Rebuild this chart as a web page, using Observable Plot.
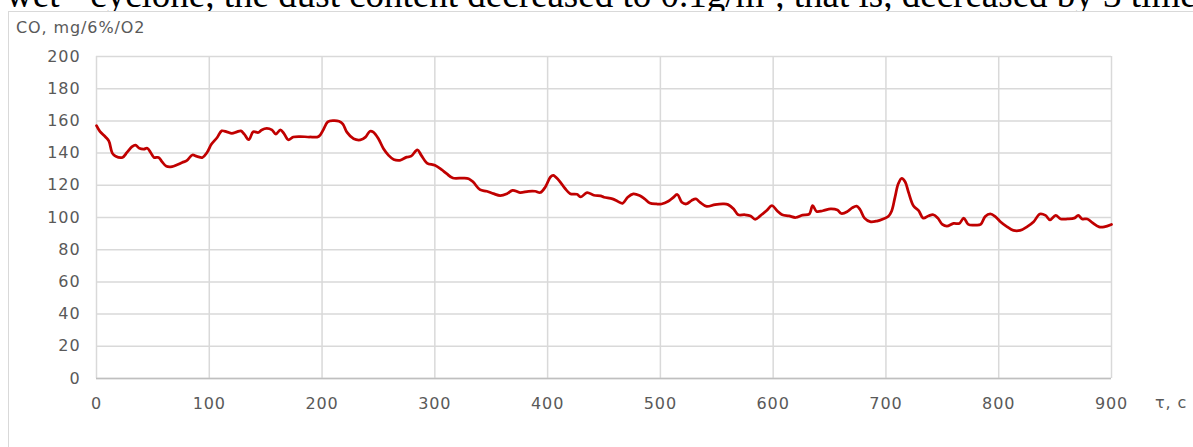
<!DOCTYPE html>
<html>
<head>
<meta charset="utf-8">
<script src="https://cdn.jsdelivr.net/npm/d3@7"></script>
<script src="https://cdn.jsdelivr.net/npm/@observablehq/plot@0.6"></script>
<style>
  html, body { margin: 0; padding: 0; background: #fff; overflow: hidden; }
  #page { position: relative; width: 1193px; height: 447px; overflow: hidden; }
  #prose {
    position: absolute; left: 6px; top: -24px; white-space: nowrap;
    font-family: "Liberation Serif", "Times New Roman", serif; font-size: 37px; line-height: 37px; color: #000;
  }
  #frame {
    position: absolute; left: 8px; top: 11px; width: 1400px; height: 600px;
    border-left: 1px solid #d9d9d9; border-top: 1px solid #d9d9d9; background: #fff;
  }
  .lbl {
    position: absolute; font-family: "DejaVu Sans", sans-serif; font-size: 16px; line-height: 16px;
    letter-spacing: 0.9px; color: #595959; white-space: nowrap;
  }
  #chart { position: absolute; left: 0; top: 0; }
</style>
</head>
<body>
<div id="page">
  <div id="prose">wet - cyclone, the dust content decreased to 0.1g/m³, that is, decreased by 3 times</div>
  <div id="frame"></div>
  <div id="chart"></div>
  <div class="lbl" id="ytitle" style="left:16px; top:20px;"></div>
  <div class="lbl" id="xtitle" style="left:1155px; top:395px;"></div>
</div>
<script>
// Time, seconds
const timeSec = [
  0, 3, 8, 11, 14, 17, 23, 27, 31.5, 34.5, 38, 42, 45, 48, 51, 55, 58, 62, 67, 71,
  76, 80, 85, 89, 94, 98, 102, 107, 111, 115.5, 120, 124.5, 128, 131, 135, 139, 143.5, 146.5, 151, 155.5,
  159, 163, 166, 170, 174.5, 180.5, 189, 197, 201, 205, 210, 215, 218.5, 222, 228, 234, 238.5, 242.5, 245.5, 250,
  254.5, 259, 263.5, 269, 275, 279, 284.5, 288, 293, 300, 306, 310.5, 316, 325, 330, 334, 340, 346, 352, 358,
  364, 369, 375.5, 383, 389, 393.5, 398, 402.5, 405, 410, 415.5, 420, 426, 429.5, 435, 441, 447, 450, 457.5, 462,
  466.5, 471, 476, 481.5, 486, 490.5, 496.5, 501, 507, 511, 515, 519, 523, 527.5, 531.5, 535, 541, 548.5, 556, 560,
  565, 569, 575, 580, 584, 588.5, 594, 599, 603.5, 608, 614, 620, 626, 632, 635, 638.5, 644, 651, 657, 660.5,
  666, 670, 674, 677, 681, 686, 692, 697.5, 702, 705, 708, 711, 714, 717, 720, 724.5, 729, 733, 738, 742,
  746, 750, 754, 760, 765, 769, 773, 779, 784, 788, 792.5, 797, 801.5, 807.5, 813, 819, 825, 831, 836.5, 841.5,
  845.5, 850.5, 855, 861, 867, 870.5, 874, 878.5, 883, 889, 893.5, 900
];

// CO concentration, mg/m³ at 6% O2
const coValues = [
  157, 153.5, 150, 147.5, 140, 138, 137.3, 140.4, 144, 145, 143, 142.5, 143, 140.4, 137.3, 137.3, 134.7, 131.8, 131.6, 132.6,
  134.2, 135.3, 138.8, 138, 137.3, 140.4, 145.6, 149.7, 153.8, 153.2, 152.2, 153.2, 153.8, 151.8, 148.3, 153.2, 152.8, 154.4, 155.3, 154.4,
  151.8, 154.4, 152.4, 148.3, 150, 150.3, 150, 150.3, 154.4, 159.4, 160.2, 159.8, 158, 153, 148.9, 148.2, 149.9, 153.6, 153, 148.9,
  142.7, 138.6, 136, 135.5, 137.5, 138.1, 142, 138.6, 133.8, 132.4, 129.7, 127.2, 124.5, 124.5, 124.1, 122, 117.3, 116.3, 114.8, 113.6,
  114.8, 116.9, 115.5, 116.3, 116.3, 115.5, 119, 125.2, 126.2, 123.1, 118, 114.8, 114.4, 112.8, 115.5, 113.8, 113.4, 112.6, 111.6, 110.1,
  108.8, 112.6, 114.7, 113.7, 111.6, 109, 108.4, 108.4, 110.1, 112.2, 114.3, 109.5, 108.4, 110.5, 111.6, 109.5, 106.9, 108, 108.4, 108,
  105.3, 101.7, 101.7, 101, 98.9, 101, 104.2, 107.4, 104.2, 101.7, 101, 100, 101.5, 102.1, 107.4, 103.8, 104.2, 105.3, 104.6, 102.5,
  103.8, 106, 107.1, 105, 99.6, 97.4, 97.8, 99.1, 100.6, 103.9, 112.5, 121.1, 124.3, 122.2, 115.7, 107.1, 104.3, 99.6, 101.1, 101.7,
  99.6, 95.7, 94.6, 96.3, 96.3, 99.6, 95.7, 95.3, 95.7, 100.6, 102.2, 100.6, 97.4, 94.2, 92, 92, 94.2, 97.4, 102.2, 101.3,
  98.5, 101.3, 99.1, 99.1, 99.6, 101.3, 99.1, 99.1, 96.8, 94.2, 94.2, 95.7
];

const xTicks = [0, 100, 200, 300, 400, 500, 600, 700, 800, 900];
const yTicks = [0, 20, 40, 60, 80, 100, 120, 140, 160, 180, 200];

const yTitle = "CO, mg/6%/O2";
const xTitle = "τ, c";

const rows = timeSec.map((t, i) => ({t, co: coValues[i]}));

const gridStyle = {stroke: "#d9d9d9", strokeOpacity: 1, strokeWidth: 1.5};

const chart = Plot.plot({
  width: 1193,
  height: 447,
  marginLeft: 96,
  marginRight: 82,
  marginTop: 56,
  marginBottom: 69,
  x: {domain: [0, 900]},
  y: {domain: [0, 200]},
  style: {
    fontFamily: "DejaVu Sans, sans-serif",
    fontSize: "16px",
    letterSpacing: "0.9px",
    color: "#595959",
    background: "transparent",
    overflow: "visible"
  },
  marks: [
    Plot.gridX(xTicks, gridStyle),
    Plot.gridY(yTicks, gridStyle),
    Plot.ruleY([0], {stroke: "#bfbfbf", strokeWidth: 1.5}),
    Plot.axisX(xTicks, {tickSize: 0, tickPadding: 19, label: null}),
    Plot.axisY(yTicks, {tickSize: 0, tickPadding: 16, label: null}),
    Plot.line(rows, {x: "t", y: "co", stroke: "#c00000", strokeWidth: 2.75, curve: "catmull-rom"})
  ]
});

document.getElementById("chart").append(chart);
document.getElementById("ytitle").textContent = yTitle;
document.getElementById("xtitle").textContent = xTitle;
</script>
</body>
</html>
